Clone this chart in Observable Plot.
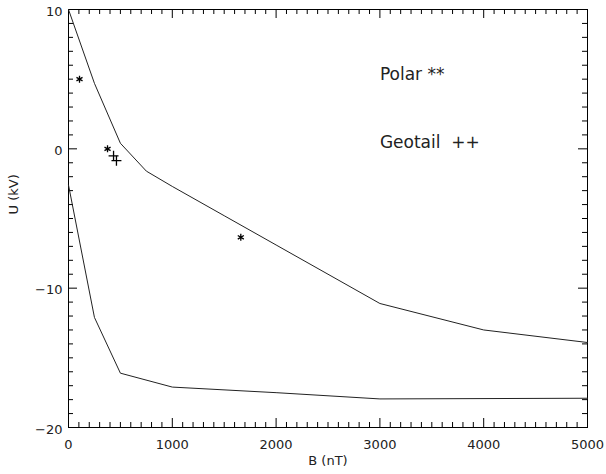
<!DOCTYPE html>
<html>
<head>
<meta charset="utf-8">
<script src="https://cdn.jsdelivr.net/npm/d3@7"></script>
<script src="https://cdn.jsdelivr.net/npm/@observablehq/plot@0.6"></script>
<style>
  html, body { margin: 0; padding: 0; background: #fff; }
  #chart { width: 606px; height: 474px; }
</style>
</head>
<body>
<div id="chart"></div>
<script>
// ---- Data ----
const upperB = [0, 250, 500, 750, 1000, 1500, 2000, 2500, 3000, 4000, 5000];
const upperU = [10, 4.7, 0.4, -1.6, -2.7, -4.8, -6.9, -9.0, -11.1, -13.0, -13.9];

const lowerB = [0, 250, 500, 1000, 2000, 3000, 5000];
const lowerU = [-2.6, -12.1, -16.1, -17.1, -17.5, -17.95, -17.9];

const polarB = [106, 376, 1660];
const polarU = [5.0, 0.0, -6.35];

const geotailB = [434, 462];
const geotailU = [-0.5, -0.85];

const xTickValues = [0, 1000, 2000, 3000, 4000, 5000];
const xTickLabels = ["0", "1000", "2000", "3000", "4000", "5000"];
const yTickValues = [-20, -10, 0, 10];
const yTickLabels = ["\u221220", "\u221210", "0", "10"];

const xLabel = "B (nT)";
const yLabel = "U (kV)";
const legendLabels = ["Polar **", "Geotail  ++"];
const legendU = [5.35, 0.45];

// ---- Build tables ----
const upper = upperB.map((b, i) => ({B: b, U: upperU[i]}));
const lower = lowerB.map((b, i) => ({B: b, U: lowerU[i]}));
const polar = polarB.map((b, i) => ({B: b, U: polarU[i]}));
const geotail = geotailB.map((b, i) => ({B: b, U: geotailU[i]}));
const xMinor = d3.range(0, 5001, 100).filter(v => !xTickValues.includes(v));
const yMinor = d3.range(-20, 11, 1).filter(v => !yTickValues.includes(v));
const legend = legendLabels.map((t, i) => ({t, U: legendU[i]}));

const W = 606, H = 474;
const mL = 68, mR = 19, mT = 9, mB = 47;
const innerW = W - mL - mR, innerH = H - mT - mB;
const xDom = [0, 5000], yDom = [-20, 10];
// pixel lengths of ticks converted to data units
const xPerPx = (xDom[1] - xDom[0]) / innerW;
const yPerPx = (yDom[1] - yDom[0]) / innerH;
const major = 9, minor = 5;
const ink = "#222";
const tickInk = "#000";
const font = "DejaVu Sans";

const tickRulesX = (vals, len) => [
  Plot.ruleX(vals, {x: d => d, y1: yDom[0], y2: yDom[0] + len * yPerPx, stroke: tickInk, strokeWidth: 1}),
  Plot.ruleX(vals, {x: d => d, y1: yDom[1], y2: yDom[1] - len * yPerPx, stroke: tickInk, strokeWidth: 1})
];
const tickRulesY = (vals, len) => [
  Plot.ruleY(vals, {y: d => d, x1: xDom[0], x2: xDom[0] + len * xPerPx, stroke: tickInk, strokeWidth: 1}),
  Plot.ruleY(vals, {y: d => d, x1: xDom[1], x2: xDom[1] - len * xPerPx, stroke: tickInk, strokeWidth: 1})
];

const chart = Plot.plot({
  width: W,
  height: H,
  marginLeft: mL,
  marginRight: mR,
  marginTop: mT,
  marginBottom: mB,
  x: {domain: xDom, axis: null},
  y: {domain: yDom, axis: null},
  style: {background: "#fff", fontFamily: font},
  marks: [
    Plot.frame({stroke: "#000", strokeWidth: 1}),
    ...tickRulesX(xTickValues, major),
    ...tickRulesX(xMinor, minor),
    ...tickRulesY(yTickValues, major),
    ...tickRulesY(yMinor, minor),
    // tick labels
    Plot.text(xTickValues, {x: d => d, text: (d, i) => xTickLabels[i], frameAnchor: "bottom", dy: 21, fontSize: 13, fill: ink, style: "letter-spacing:0.5px"}),
    Plot.text(yTickValues, {y: d => d, text: (d, i) => yTickLabels[i], frameAnchor: "left", dx: -6, dy: 2, textAnchor: "end", fontSize: 13, fill: ink, style: "letter-spacing:0.5px"}),
    // axis labels
    Plot.text([xLabel], {frameAnchor: "bottom", dy: 37, fontSize: 13, fill: ink, style: "letter-spacing:1px"}),
    Plot.text([yLabel], {frameAnchor: "left", dx: -55, dy: -4, rotate: -90, fontSize: 13, fill: ink, style: "letter-spacing:1px"}),
    // curves
    Plot.line(upper, {x: "B", y: "U", stroke: ink, strokeWidth: 1}),
    Plot.line(lower, {x: "B", y: "U", stroke: ink, strokeWidth: 1}),
    // observations
    Plot.dot(polar, {x: "B", y: "U", symbol: "asterisk", r: 3.3, stroke: "#000", strokeWidth: 1.3}),
    Plot.dot(geotail, {x: "B", y: "U", symbol: "plus", r: 3.3, stroke: "#000", strokeWidth: 1.3}),
    // legend text
    Plot.text(legend, {x: 3000, y: "U", text: "t", textAnchor: "start", fontSize: 17, fill: ink, style: "letter-spacing:1px"})
  ]
});
document.getElementById("chart").append(chart);
</script>
</body>
</html>
